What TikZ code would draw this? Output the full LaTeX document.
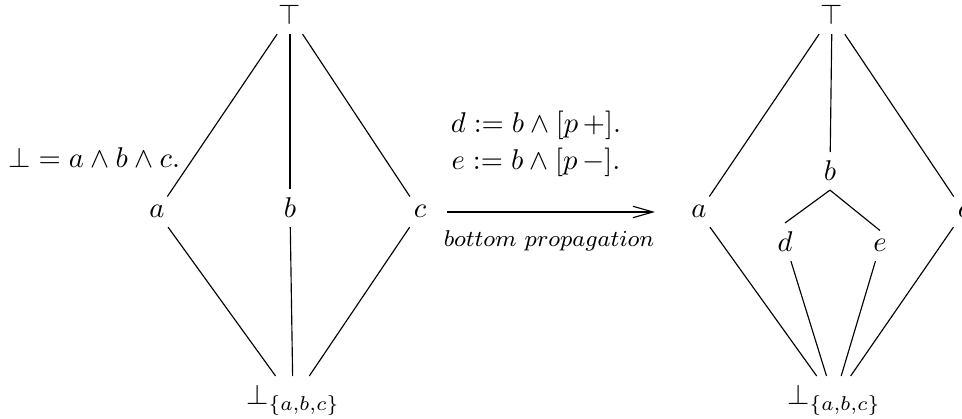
\documentclass[tikz,border=0pt]{standalone}
\usetikzlibrary{arrows.meta}
\begin{document}
\begin{tikzpicture}[x=0.35pt,y=0.35pt,
    elem/.style={anchor=base, inner sep=3pt},
    edge/.style={thin}]
    \useasboundingbox (0,0) rectangle (962,419);

    \node[anchor=base west, inner sep=0pt] (botdef) at (8,251) {$\bot = a \wedge b \wedge c.$};

    \node[elem] (topL) at (290,394) {$\top$};
    \node[elem] (aL) at (157,201) {$a$};
    \node[elem] (bL) at (290,201) {$b$};
    \node[elem] (cL) at (420,201) {$c$};
    \node[elem] (botL) at (293,14) {$\bot_{\{a,b,c\}}$};

    \draw[edge] (topL) -- (aL);
    \draw[edge] (topL) -- (bL);
    \draw[edge] (topL) -- (cL);
    \draw[edge] (aL) -- (botL);
    \draw[edge] (bL) -- (botL);
    \draw[edge] (cL) -- (botL);

    \coordinate (arrS) at (447,207);
    \coordinate (arrE) at (655,207);
    \draw[edge, -{Straight Barb[length=7pt,width=4pt]}] (arrS) -- (arrE);
    \node[anchor=base] (defd) at (536,286) {$d := b \wedge [p\,+].$};
    \node[anchor=base] (defe) at (536,249) {$e := b \wedge [p\,-].$};
    \node[anchor=base, font=\footnotesize] (prop) at (549,172) {$bottom\ propagation$};

    \node[elem] (topR) at (832,394) {$\top$};
    \node[elem] (aR) at (699,201) {$a$};
    \node[elem] (bR) at (830,238) {$b$};
    \node[elem] (cR) at (964,201) {$c$};
    \node[elem] (dR) at (785,167) {$d$};
    \node[elem] (eR) at (880,167) {$e$};
    \node[elem] (botR) at (834,14) {$\bot_{\{a,b,c\}}$};

    \draw[edge] (topR) -- (aR);
    \draw[edge] (topR) -- (bR);
    \draw[edge] (topR) -- (cR);
    \draw[edge] (bR.south) -- (dR.north);
    \draw[edge] (bR.south) -- (eR.north);
    \draw[edge] (aR) -- (botR);
    \draw[edge] (dR) -- (botR);
    \draw[edge] (eR) -- (botR);
    \draw[edge] (cR) -- (botR);
\end{tikzpicture}
\end{document}
